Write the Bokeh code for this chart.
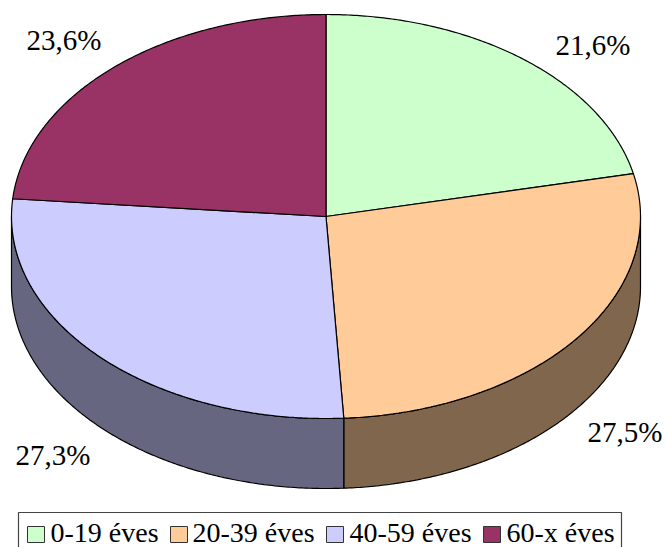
import numpy as np
from bokeh.plotting import figure
from bokeh.embed import file_html
from bokeh.resources import INLINE
from bokeh.core.properties import value

categories = ["0-19 éves", "20-39 éves", "40-59 éves", "60-x éves"]
shares = [21.6, 27.5, 27.3, 23.6]
labels = ["21,6%", "27,5%", "27,3%", "23,6%"]
top_colors = ["#CCFFCC", "#FFCC99", "#CCCCFF", "#993366"]
side_colors = ["#667F66", "#7F664C", "#666680", "#4C1933"]

CX, CY, RX, RY, DEPTH = 325.5, 216, 314.5, 202, 70
FONT = "Liberation Serif"
label_xy = [(555, 44), (587, 431), (15, 454), (26, 39)]
legend_x = [27, 170, 326, 483]
text_x = [50, 192, 349, 506]
TEXT_Y = 532
BOX_Y = 534

p = figure(width=666, height=547, x_range=(0, 666), y_range=(547, 0),
           toolbar_location=None, output_backend="svg", min_border=0)
p.axis.visible = False
p.grid.visible = False
p.outline_line_color = None
p.background_fill_color = "white"


def arc(a, b):
    n = max(3, int(abs(b - a) * 2))
    t = np.radians(np.linspace(a, b, n))
    return CX + RX * np.sin(t), CY - RY * np.cos(t)


total = sum(shares)
edges = np.concatenate([[0], np.cumsum(shares)]) / total * 360

# side walls
for i in range(4):
    a, b = max(edges[i], 90), min(edges[i + 1], 270)
    if a >= b:
        continue
    x, y = arc(a, b)
    p.patch(np.r_[x, x[::-1]], np.r_[y, y[::-1] + DEPTH],
            fill_color=side_colors[i], line_color="black", line_width=1.2)

# top slices
for i in range(4):
    x, y = arc(edges[i], edges[i + 1])
    p.patch(np.r_[CX, x], np.r_[CY, y], fill_color=top_colors[i],
            line_color="black", line_width=1.2)

for (x, y), t in zip(label_xy, labels):
    p.text([x], [y], text=[t], text_font=value(FONT), text_font_size="29px",
           text_color="black", text_align="left", text_baseline="middle")

# legend box (cut by the page edge)
p.quad(left=[18], right=[621], top=[512], bottom=[560], fill_color="white",
       line_color="#444444", line_width=1.2)
for i, c in enumerate(categories):
    p.quad(left=[legend_x[i]], right=[legend_x[i] + 17], top=[BOX_Y - 8], bottom=[BOX_Y + 8],
           fill_color=top_colors[i], line_color="#333333", line_width=1)
    p.text([text_x[i]], [TEXT_Y], text=[c], text_font=value(FONT), text_font_size="28px",
           text_color="black", text_align="left", text_baseline="middle")

open("out.html", "w").write(file_html(p, INLINE))
